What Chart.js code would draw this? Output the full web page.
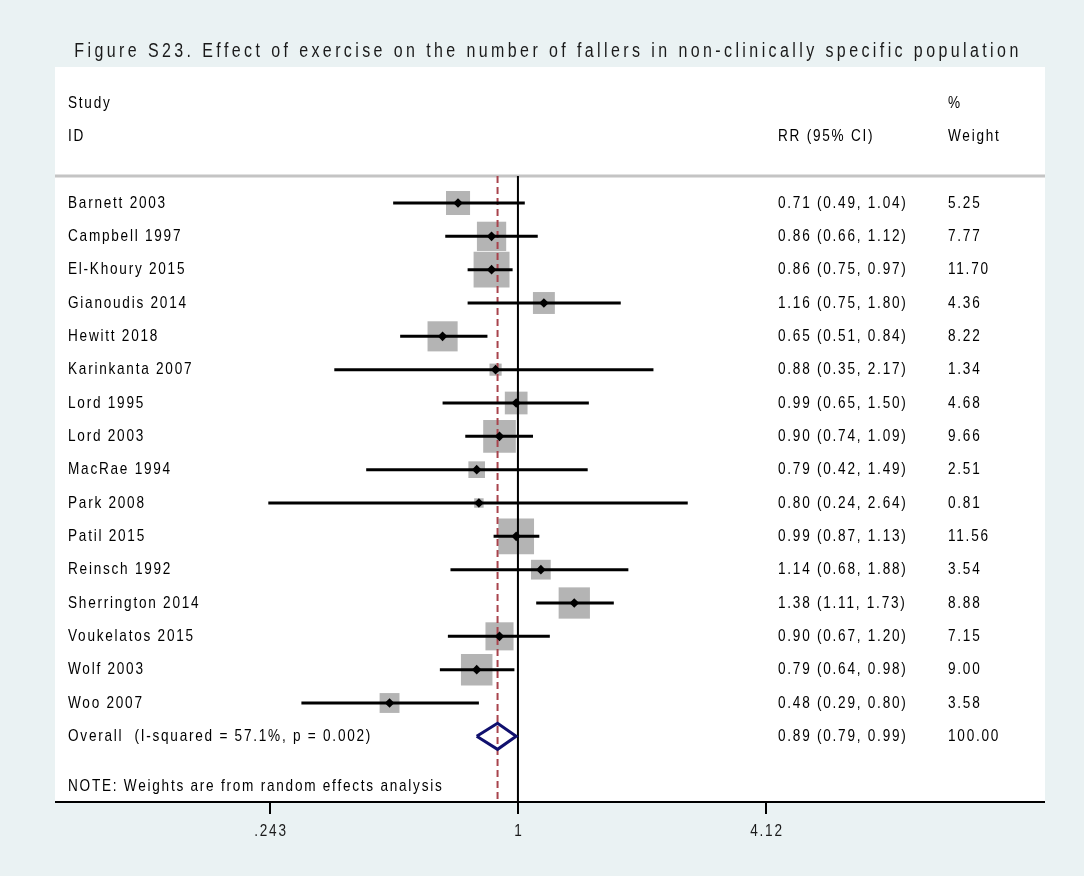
<!DOCTYPE html>
<html>
<head>
<meta charset="utf-8">
<title>Figure S23 forest plot</title>
<script src="https://cdn.jsdelivr.net/npm/chart.js@4.4.1/dist/chart.umd.min.js"></script>
<style>
  html, body { margin: 0; padding: 0; background: #EAF2F3; }
  #wrap { width: 1084px; height: 876px; }
</style>
</head>
<body>
<div id="wrap"><canvas id="forest" width="1084" height="876"></canvas></div>
<script>
// Study-level relative risks with 95% confidence limits and random-effects weights
const studies = [
  'Barnett 2003', 'Campbell 1997', 'El-Khoury 2015', 'Gianoudis 2014',
  'Hewitt 2018', 'Karinkanta 2007', 'Lord 1995', 'Lord 2003',
  'MacRae 1994', 'Park 2008', 'Patil 2015', 'Reinsch 1992',
  'Sherrington 2014', 'Voukelatos 2015', 'Wolf 2003', 'Woo 2007'
];
const rr      = [0.71, 0.86, 0.86, 1.16, 0.65, 0.88, 0.99, 0.90, 0.79, 0.80, 0.99, 1.14, 1.38, 0.90, 0.79, 0.48];
const lower   = [0.49, 0.66, 0.75, 0.75, 0.51, 0.35, 0.65, 0.74, 0.42, 0.24, 0.87, 0.68, 1.11, 0.67, 0.64, 0.29];
const upper   = [1.04, 1.12, 0.97, 1.80, 0.84, 2.17, 1.50, 1.09, 1.49, 2.64, 1.13, 1.88, 1.73, 1.20, 0.98, 0.80];
const weights = [5.25, 7.77, 11.70, 4.36, 8.22, 1.34, 4.68, 9.66, 2.51, 0.81, 11.56, 3.54, 8.88, 7.15, 9.00, 3.58];

// Pooled estimate
const overallLabel = 'Overall  (I-squared = 57.1%, p = 0.002)';
const overallRR = 0.89;
const overallLower = 0.79;
const overallUpper = 0.99;
const overallWeight = 100.00;

// Axis ticks
const tickValues = [0.243, 1, 4.12];
const tickLabels = ['.243', '1', '4.12'];

const titleText = 'Figure S23. Effect of exercise on the number of fallers in non-clinically specific population';
const noteText = 'NOTE: Weights are from random effects analysis';

// ---- layout / style ----
const FONT = "'Liberation Sans', Arial, sans-serif";
const NARROW = 0.8;                            // horizontal squeeze for a condensed look
const X_MIN = 0.0709, X_MAX = 20.35;           // log-scale range of the plot region
const Y_MIN = -4.08, Y_MAX = 17.97;            // row range (rows counted downward)
const HEADER_LINE_ROW = -0.81;
const OVERALL_ROW = studies.length;
const NOTE_ROW = studies.length + 1.5;
const DIAMOND_HALF = 0.39;                     // half height of pooled diamond, in rows

const fmt = v => v.toFixed(2);
const rows = studies.map((_, i) => i);

// one dataset per confidence interval
const ciSets = studies.map((s, i) => ({
  type: 'line',
  label: s + ' CI',
  data: [{ x: lower[i], y: i }, { x: upper[i], y: i }],
  borderColor: '#000000',
  borderWidth: 3,
  pointRadius: 0,
  order: 3
}));

const datasets = [
  // weight boxes
  {
    type: 'scatter',
    label: 'weight',
    data: rows.map(i => ({ x: rr[i], y: i })),
    pointStyle: 'rect',
    pointRadius: weights.map(w => Math.sqrt(w) * 10.5 / Math.SQRT2),
    backgroundColor: '#b4b4b4',
    borderWidth: 0,
    order: 6
  },
  // line of no effect
  {
    type: 'line',
    label: 'null',
    data: [{ x: 1, y: HEADER_LINE_ROW }, { x: 1, y: Y_MAX }],
    borderColor: '#000000',
    borderWidth: 2,
    pointRadius: 0,
    order: 5
  },
  // pooled estimate reference
  {
    type: 'line',
    label: 'pooled',
    data: [{ x: overallRR, y: HEADER_LINE_ROW }, { x: overallRR, y: Y_MAX }],
    borderColor: '#a8434c',
    borderWidth: 2,
    borderDash: [7, 4],
    pointRadius: 0,
    order: 4
  },
  ...ciSets,
  // point estimates
  {
    type: 'scatter',
    label: 'estimate',
    data: rows.map(i => ({ x: rr[i], y: i })),
    pointStyle: 'rectRot',
    pointRadius: 4.8,
    backgroundColor: '#000000',
    borderWidth: 0,
    order: 2
  },
  // pooled diamond
  {
    type: 'line',
    label: 'overall',
    data: [
      { x: overallLower, y: OVERALL_ROW },
      { x: overallRR, y: OVERALL_ROW - DIAMOND_HALF },
      { x: overallUpper, y: OVERALL_ROW },
      { x: overallRR, y: OVERALL_ROW + DIAMOND_HALF },
      { x: overallLower, y: OVERALL_ROW }
    ],
    borderColor: '#10106e',
    borderWidth: 3,
    pointRadius: 0,
    tension: 0,
    order: 1
  }
];

// condensed, letter-spaced text
function drawText(ctx, text, x, y, size, align, spacing, color) {
  ctx.save();
  ctx.translate(x, y);
  ctx.scale(NARROW, 1);
  ctx.font = size + 'px ' + FONT;
  ctx.letterSpacing = (spacing / NARROW) + 'px';
  ctx.fillStyle = color || '#000000';
  ctx.textBaseline = 'middle';
  ctx.textAlign = align;
  ctx.fillText(text, 0, 0);
  ctx.restore();
}

const frame = {
  id: 'forestFrame',
  beforeDraw(chart) {
    const { ctx, chartArea: a } = chart;
    ctx.save();
    ctx.fillStyle = '#EAF2F3';
    ctx.fillRect(0, 0, chart.width, chart.height);
    ctx.fillStyle = '#ffffff';
    ctx.fillRect(a.left, a.top, a.right - a.left, a.bottom - a.top);
    // header rule
    const yS = chart.scales.y;
    const hy = yS.getPixelForValue(HEADER_LINE_ROW);
    ctx.strokeStyle = '#c4c4c4';
    ctx.lineWidth = 3;
    ctx.beginPath();
    ctx.moveTo(a.left, hy);
    ctx.lineTo(a.right, hy);
    ctx.stroke();
    ctx.restore();
  },
  afterDraw(chart) {
    const { ctx, chartArea: a } = chart;
    const xS = chart.scales.x, yS = chart.scales.y;
    const S = 17, SP = 1.75;
    const colLabel = 68, colCI = 778, colW = 948;

    // title
    drawText(ctx, titleText, 548, 51, 20, 'center', 3.4, '#1a1a1a');

    // column headers
    drawText(ctx, 'Study', colLabel, yS.getPixelForValue(-3), S, 'left', SP);
    drawText(ctx, 'ID', colLabel, yS.getPixelForValue(-2), S, 'left', SP);
    drawText(ctx, 'RR (95% CI)', colCI, yS.getPixelForValue(-2), S, 'left', SP);
    drawText(ctx, '%', colW, yS.getPixelForValue(-3), S, 'left', SP);
    drawText(ctx, 'Weight', colW, yS.getPixelForValue(-2), S, 'left', SP);

    // study rows
    studies.forEach((s, i) => {
      const y = yS.getPixelForValue(i);
      drawText(ctx, s, colLabel, y, S, 'left', SP);
      drawText(ctx, `${fmt(rr[i])} (${fmt(lower[i])}, ${fmt(upper[i])})`, colCI, y, S, 'left', SP);
      drawText(ctx, fmt(weights[i]), colW, y, S, 'left', SP);
    });

    // pooled row
    const oy = yS.getPixelForValue(OVERALL_ROW);
    drawText(ctx, overallLabel, colLabel, oy, S, 'left', SP);
    drawText(ctx, `${fmt(overallRR)} (${fmt(overallLower)}, ${fmt(overallUpper)})`, colCI, oy, S, 'left', SP);
    drawText(ctx, fmt(overallWeight), colW, oy, S, 'left', SP);

    // note
    drawText(ctx, noteText, colLabel, yS.getPixelForValue(NOTE_ROW), S, 'left', SP);

    // x axis
    ctx.save();
    ctx.strokeStyle = '#000000';
    ctx.lineWidth = 2;
    ctx.beginPath();
    ctx.moveTo(a.left, a.bottom);
    ctx.lineTo(a.right, a.bottom);
    ctx.stroke();
    tickValues.forEach((v, k) => {
      const x = Math.round(xS.getPixelForValue(v));
      ctx.beginPath();
      ctx.moveTo(x, a.bottom);
      ctx.lineTo(x, a.bottom + 12);
      ctx.stroke();
      drawText(ctx, tickLabels[k], x + 1, a.bottom + 29, S, 'center', SP, '#1a1a1a');
    });
    ctx.restore();
  }
};

new Chart(document.getElementById('forest'), {
  data: { datasets },
  options: {
    responsive: false,
    animation: false,
    events: [],
    layout: { padding: { left: 55, right: 39, top: 67, bottom: 74 } },
    plugins: { legend: { display: false }, tooltip: { enabled: false }, title: { display: false } },
    scales: {
      x: { type: 'logarithmic', min: X_MIN, max: X_MAX, display: false },
      y: { type: 'linear', min: Y_MIN, max: Y_MAX, reverse: true, display: false }
    }
  },
  plugins: [frame]
});
</script>
</body>
</html>
